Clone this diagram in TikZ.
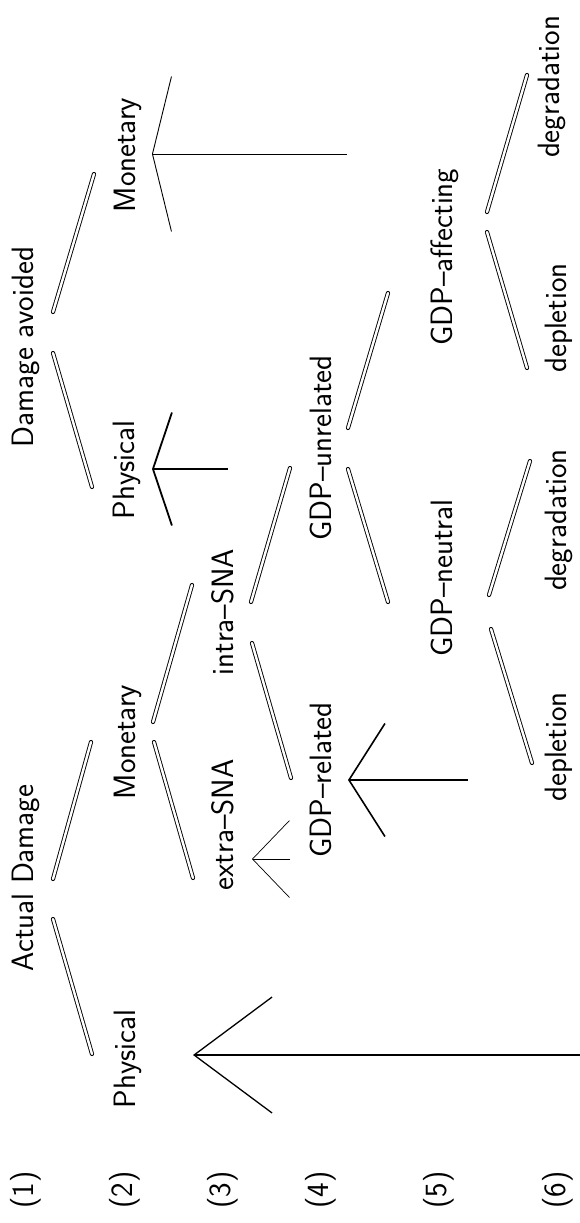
\documentclass[tikz,border=0pt]{standalone}
\usetikzlibrary{arrows.meta}
\begin{document}
\begin{tikzpicture}[x=1bp, y=-1bp]
\useasboundingbox (0,0) rectangle (580,1223);

\tikzset{every node/.style={rotate=90, anchor=base, inner sep=0pt, font=\fontsize{31}{36}\selectfont\sffamily}}
% row numbers
\node (r1) at (33,1190) {(1)};
\node (r2) at (132,1190) {(2)};
\node (r3) at (230,1190) {(3)};
\node (r4) at (328,1190) {(4)};
\node (r5) at (446,1190) {(5)};
\node (r6) at (565,1190) {(6)};

% labels
\node (ad) at (33,878) {Actual Damage};
\node (da) at (33,347) {Damage avoided};
\node (ph) at (135,1059) {Physical};
\node (mo) at (135,742) {Monetary};
\node (ph2) at (134,470) {Physical};
\node (mo2) at (135,155) {Monetary};
\node (ex) at (233,825) {extra--SNA};
\node (in) at (233,612) {intra--SNA};
\node (re) at (331,780) {GDP--related};
\node (un) at (331,448) {GDP--unrelated};
\node (ne) at (452,578) {GDP--neutral};
\node (af) at (452,257) {GDP--affecting};
\node (dp1) at (566,747) {depletion};
\node (dg1) at (566,520) {degradation};
\node (dp2) at (566,318) {depletion};
\node (dg2) at (559,87) {degradation};

% bar ends
\coordinate (ad-u) at (53,879); \coordinate (ad-d) at (53,919);
\coordinate (mo-i) at (91,742); \coordinate (ph-i) at (92,1054);
\coordinate (da-u) at (53,312); \coordinate (da-d) at (53,353);
\coordinate (mo2-i) at (94,174); \coordinate (ph2-i) at (92,487);
\coordinate (mo-u) at (153,722); \coordinate (mo-d) at (154,742);
\coordinate (in-i) at (192,585); \coordinate (ex-i) at (193,878);
\coordinate (in-u) at (251,602); \coordinate (in-d) at (252,643);
\coordinate (un-i) at (290,468); \coordinate (re-i) at (291,778);
\coordinate (un-u) at (348,428); \coordinate (un-d) at (348,469);
\coordinate (af-i) at (388,293); \coordinate (ne-i) at (388,602);
\coordinate (ne-u) at (489,595); \coordinate (ne-d) at (491,629);
\coordinate (dg1-i) at (530,461); \coordinate (dp1-i) at (532,763);
\coordinate (af-u) at (487,212); \coordinate (af-d) at (487,232);
\coordinate (dg2-i) at (527,75); \coordinate (dp2-i) at (527,368);

% arrow ends
\coordinate (mo2-h) at (152,154); \coordinate (mo2-t) at (347,154);
\coordinate (ph2-h) at (152,469); \coordinate (ph2-t) at (228,469);
\coordinate (ph-h) at (193,1055); \coordinate (ph-t) at (580,1055);
\coordinate (ex-h) at (252,859); \coordinate (ex-t) at (290,859);
\coordinate (re-h) at (348,780); \coordinate (re-t) at (468,780);

\tikzset{bar/.style={double, double distance=2.4bp, line width=0.9bp, line cap=round}}
\tikzset{vhead/.style 2 args={-{Straight Barb[length=#1bp, width=#2bp]}}}

\draw[bar] (ad-u) -- (mo-i);
\draw[bar] (ad-d) -- (ph-i);
\draw[bar] (da-u) -- (mo2-i);
\draw[bar] (da-d) -- (ph2-i);
\draw[bar] (mo-u) -- (in-i);
\draw[bar] (mo-d) -- (ex-i);
\draw[bar] (in-u) -- (un-i);
\draw[bar] (in-d) -- (re-i);
\draw[bar] (un-u) -- (af-i);
\draw[bar] (un-d) -- (ne-i);
\draw[bar] (ne-u) -- (dg1-i);
\draw[bar] (ne-d) -- (dp1-i);
\draw[bar] (af-u) -- (dg2-i);
\draw[bar] (af-d) -- (dp2-i);

\draw[vhead={19}{155}, line width=0.9bp] (mo2-t) -- (mo2-h);
\draw[vhead={19}{113}, line width=1.8bp] (ph2-t) -- (ph2-h);
\draw[vhead={78}{116}, line width=1.3bp] (ph-t) -- (ph-h);
\draw[vhead={37}{77}, line width=0.7bp] (ex-t) -- (ex-h);
\draw[vhead={36}{113}, line width=1.6bp] (re-t) -- (re-h);
\end{tikzpicture}
\end{document}
